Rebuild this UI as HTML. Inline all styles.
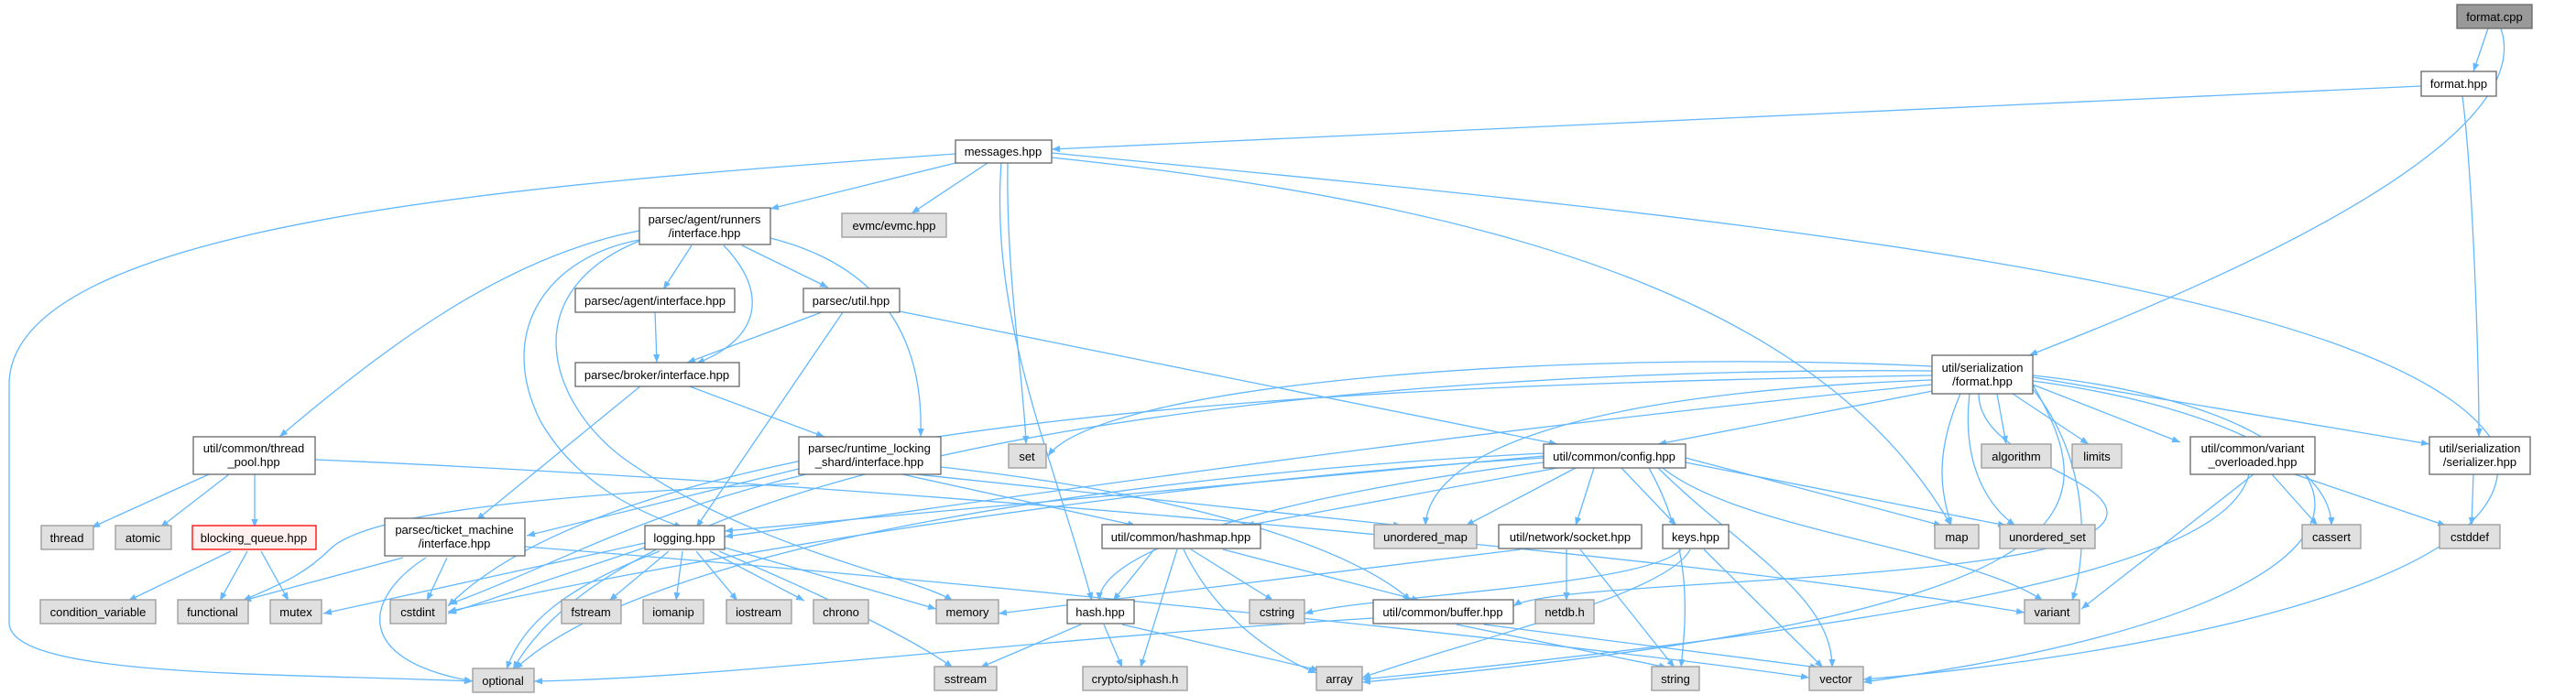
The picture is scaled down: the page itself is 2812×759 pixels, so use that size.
<!DOCTYPE html>
<html><head><meta charset="utf-8"><style>
html,body{margin:0;padding:0;background:#fff;}
svg{display:block;}
text{font-family:"Liberation Sans",Arial,sans-serif;font-size:13px;fill:#000;text-anchor:middle;}
.w{fill:#fff;stroke:#666;stroke-width:1.3;}
.g{fill:#e0e0e0;stroke:#999;stroke-width:1.3;}
.e path{fill:none;stroke:#63b8ff;stroke-width:1.3;marker-end:url(#a);}
</style></head><body>
<svg width="2812" height="759" viewBox="0 0 2812 759" xmlns="http://www.w3.org/2000/svg">
<defs><marker id="a" viewBox="0 0 10 10" refX="10" refY="5" markerWidth="9" markerHeight="9" markerUnits="userSpaceOnUse" orient="auto"><path d="M0,1 L10,5 L0,9 z" fill="#63b8ff"/></marker></defs>
<g class="e">
<path d="M2716,31 L2700,78"/>
<path d="M2730,31 C2750,90 2700,200 2215,388"/>
<path d="M2643,94 L1148,163"/>
<path d="M2688,105 C2700,200 2706,400 2706,477"/>
<path d="M1043,178 L841,228"/>
<path d="M1078,178 L995,233"/>
<path d="M1100,178 C1098,300 1118,420 1120,485"/>
<path d="M1093,178 C1080,350 1150,500 1192,656"/>
<path d="M1148,172 C1700,230 2000,350 2130,574"/>
<path d="M1148,167 C1800,230 2600,300 2720,480 C2790,640 2300,720 2034,742"/>
<path d="M1043,168 C600,200 10,240 10,420 L10,680 C10,740 300,735 516,744"/>
<path d="M755,268 L724,316"/>
<path d="M810,268 L904,314"/>
<path d="M790,268 C840,320 830,370 760,397"/>
<path d="M698,252 C550,280 420,380 305,477"/>
<path d="M841,260 C920,280 1010,330 1005,477"/>
<path d="M698,262 C600,280 540,360 590,460 C630,530 700,560 745,576"/>
<path d="M698,263 C560,320 600,440 680,500 C820,600 1000,630 1040,656"/>
<path d="M715,340 L717,396"/>
<path d="M897,341 L750,396"/>
<path d="M920,341 L760,576"/>
<path d="M982,340 L1700,485"/>
<path d="M700,421 L520,568"/>
<path d="M750,421 L900,477"/>
<path d="M228,518 L100,576"/>
<path d="M250,518 L175,576"/>
<path d="M278,518 L278,576"/>
<path d="M344,502 C900,525 1800,600 2210,669"/>
<path d="M252,602 L140,656"/>
<path d="M270,602 L240,656"/>
<path d="M285,602 L315,656"/>
<path d="M872,528 C600,540 400,560 360,600 C330,630 300,640 265,656"/>
<path d="M880,518 C700,560 600,620 490,660"/>
<path d="M872,512 L575,585"/>
<path d="M1000,518 L1530,574"/>
<path d="M985,518 L1240,574"/>
<path d="M1027,510 C1300,540 1480,600 1540,656"/>
<path d="M440,609 L265,656"/>
<path d="M488,609 L466,656"/>
<path d="M465,609 C400,650 380,720 516,744"/>
<path d="M573,597 C1000,630 1700,700 1975,740"/>
<path d="M704,593 L353,670"/>
<path d="M704,598 L489,670"/>
<path d="M730,602 L665,656"/>
<path d="M745,602 L738,656"/>
<path d="M760,602 L805,656"/>
<path d="M775,602 L878,656"/>
<path d="M791,598 L1022,665"/>
<path d="M785,602 C900,650 1000,700 1040,729"/>
<path d="M720,602 C620,640 570,680 553,731"/>
<path d="M2109,400 C1700,380 1200,420 1144,498"/>
<path d="M2120,425 L1810,485"/>
<path d="M2180,430 L2190,485"/>
<path d="M2197,430 L2280,485"/>
<path d="M2219,420 L2380,483"/>
<path d="M2219,412 L2652,485"/>
<path d="M2219,416 C2400,440 2545,500 2545,574"/>
<path d="M2219,425 C2280,500 2280,600 2262,656"/>
<path d="M2219,410 C2600,450 2720,650 2034,745"/>
<path d="M2219,420 C2300,560 2300,670 1487,745"/>
<path d="M2140,430 C2110,500 2120,540 2130,574"/>
<path d="M2109,415 C1700,430 1560,500 1556,574"/>
<path d="M2150,430 C2140,520 2180,560 2200,574"/>
<path d="M2109,405 C1500,400 700,480 560,731"/>
<path d="M2109,410 C1500,420 700,450 489,662"/>
<path d="M2160,430 C2160,500 2300,520 2300,560 C2300,640 1700,630 1652,662"/>
<path d="M2109,420 C1500,480 1000,560 791,586"/>
<path d="M1700,511 L1360,574"/>
<path d="M1720,511 L1600,574"/>
<path d="M1740,511 L1720,574"/>
<path d="M1770,511 L1830,574"/>
<path d="M1840,500 L2120,574"/>
<path d="M1840,505 L2190,574"/>
<path d="M1810,511 C1900,600 2000,650 2000,729"/>
<path d="M1800,511 C1850,600 1840,680 1835,729"/>
<path d="M1815,511 C1900,580 2150,600 2230,656"/>
<path d="M1685,505 C1400,540 1200,600 1200,656"/>
<path d="M1685,495 C1200,520 700,600 562,731"/>
<path d="M1685,500 C1200,530 700,620 489,668"/>
<path d="M1685,498 L791,580"/>
<path d="M1260,600 L1215,656"/>
<path d="M1300,600 L1390,656"/>
<path d="M1285,600 L1245,729"/>
<path d="M1292,600 C1330,680 1400,720 1437,735"/>
<path d="M1335,600 L1550,656"/>
<path d="M1660,600 L1090,670"/>
<path d="M1710,600 L1710,656"/>
<path d="M1725,600 L1828,729"/>
<path d="M1835,600 C1800,640 1500,650 1424,670"/>
<path d="M1845,600 C1820,650 1600,700 1487,740"/>
<path d="M1860,600 L1990,729"/>
<path d="M2480,518 L2530,574"/>
<path d="M2505,518 L2670,574"/>
<path d="M2460,518 L2272,665"/>
<path d="M2455,518 C2430,620 2100,680 1487,742"/>
<path d="M2700,518 L2698,574"/>
<path d="M1180,682 L1070,729"/>
<path d="M1205,682 L1225,729"/>
<path d="M1225,682 L1440,732"/>
<path d="M1499,675 C1100,700 800,740 583,744"/>
<path d="M1590,682 L1820,729"/>
<path d="M1620,682 L1985,729"/>
</g>
<g>
<rect x="2682" y="5" width="82" height="26" fill="#999" stroke="#666" stroke-width="1.3"/><text x="2723" y="23">format.cpp</text>
<rect class="w" x="2643" y="78" width="82" height="27"/><text x="2684" y="96">format.hpp</text>
<rect class="w" x="1043" y="153" width="105" height="25"/><text x="1095" y="170">messages.hpp</text>
<rect class="w" x="698" y="227" width="143" height="40"/><text x="769" y="244">parsec/agent/runners</text><text x="769" y="259">/interface.hpp</text>
<rect class="g" x="919" y="233" width="114" height="26"/><text x="976" y="251">evmc/evmc.hpp</text>
<rect class="w" x="628" y="315" width="174" height="26"/><text x="715" y="333">parsec/agent/interface.hpp</text>
<rect class="w" x="877" y="315" width="105" height="26"/><text x="929" y="333">parsec/util.hpp</text>
<rect class="w" x="628" y="396" width="179" height="26"/><text x="717" y="414">parsec/broker/interface.hpp</text>
<rect class="w" x="2109" y="388" width="110" height="42"/><text x="2164" y="406">util/serialization</text><text x="2164" y="421">/format.hpp</text>
<rect class="w" x="211" y="477" width="133" height="41"/><text x="277" y="494">util/common/thread</text><text x="277" y="509">_pool.hpp</text>
<rect class="w" x="872" y="477" width="155" height="41"/><text x="949" y="494">parsec/runtime_locking</text><text x="949" y="509">_shard/interface.hpp</text>
<rect class="g" x="1101" y="485" width="41" height="26"/><text x="1121" y="503">set</text>
<rect class="w" x="1685" y="485" width="155" height="26"/><text x="1762" y="503">util/common/config.hpp</text>
<rect class="g" x="2163" y="485" width="76" height="26"/><text x="2201" y="503">algorithm</text>
<rect class="g" x="2262" y="485" width="54" height="26"/><text x="2289" y="503">limits</text>
<rect class="w" x="2391" y="477" width="136" height="41"/><text x="2459" y="494">util/common/variant</text><text x="2459" y="509">_overloaded.hpp</text>
<rect class="w" x="2652" y="477" width="110" height="41"/><text x="2707" y="494">util/serialization</text><text x="2707" y="509">/serializer.hpp</text>
<rect class="g" x="45" y="574" width="57" height="26"/><text x="73" y="592">thread</text>
<rect class="g" x="126" y="574" width="61" height="26"/><text x="156" y="592">atomic</text>
<rect x="210" y="574" width="135" height="26" fill="#fff0f0" stroke="#ff0000" stroke-width="1.3"/><text x="277" y="592">blocking_queue.hpp</text>
<rect class="w" x="420" y="566" width="153" height="41"/><text x="496" y="583">parsec/ticket_machine</text><text x="496" y="598">/interface.hpp</text>
<rect class="w" x="704" y="574" width="87" height="26"/><text x="747" y="592">logging.hpp</text>
<rect class="w" x="1203" y="573" width="173" height="26"/><text x="1289" y="591">util/common/hashmap.hpp</text>
<rect class="g" x="1500" y="573" width="112" height="26"/><text x="1556" y="591">unordered_map</text>
<rect class="w" x="1636" y="573" width="156" height="26"/><text x="1714" y="591">util/network/socket.hpp</text>
<rect class="w" x="1815" y="573" width="72" height="26"/><text x="1851" y="591">keys.hpp</text>
<rect class="g" x="2112" y="573" width="48" height="26"/><text x="2136" y="591">map</text>
<rect class="g" x="2183" y="573" width="104" height="26"/><text x="2235" y="591">unordered_set</text>
<rect class="g" x="2513" y="573" width="64" height="26"/><text x="2545" y="591">cassert</text>
<rect class="g" x="2663" y="573" width="66" height="26"/><text x="2696" y="591">cstddef</text>
<rect class="g" x="44" y="655" width="126" height="26"/><text x="107" y="673">condition_variable</text>
<rect class="g" x="194" y="655" width="77" height="26"/><text x="232" y="673">functional</text>
<rect class="g" x="295" y="655" width="56" height="26"/><text x="323" y="673">mutex</text>
<rect class="g" x="426" y="655" width="61" height="26"/><text x="456" y="673">cstdint</text>
<rect class="g" x="613" y="655" width="65" height="26"/><text x="645" y="673">fstream</text>
<rect class="g" x="702" y="655" width="66" height="26"/><text x="735" y="673">iomanip</text>
<rect class="g" x="793" y="655" width="71" height="26"/><text x="828" y="673">iostream</text>
<rect class="g" x="888" y="655" width="60" height="26"/><text x="918" y="673">chrono</text>
<rect class="g" x="1022" y="655" width="68" height="26"/><text x="1056" y="673">memory</text>
<rect class="w" x="1165" y="655" width="73" height="26"/><text x="1201" y="673">hash.hpp</text>
<rect class="g" x="1364" y="655" width="60" height="26"/><text x="1394" y="673">cstring</text>
<rect class="w" x="1499" y="655" width="153" height="26"/><text x="1575" y="673">util/common/buffer.hpp</text>
<rect class="g" x="1676" y="655" width="64" height="26"/><text x="1708" y="673">netdb.h</text>
<rect class="g" x="2210" y="655" width="60" height="26"/><text x="2240" y="673">variant</text>
<rect class="g" x="516" y="730" width="67" height="26"/><text x="549" y="748">optional</text>
<rect class="g" x="1020" y="728" width="68" height="26"/><text x="1054" y="746">sstream</text>
<rect class="g" x="1182" y="728" width="114" height="26"/><text x="1239" y="746">crypto/siphash.h</text>
<rect class="g" x="1437" y="728" width="50" height="26"/><text x="1462" y="746">array</text>
<rect class="g" x="1803" y="728" width="52" height="26"/><text x="1829" y="746">string</text>
<rect class="g" x="1975" y="728" width="59" height="26"/><text x="2004" y="746">vector</text>
</g>
</svg>
</body></html>
